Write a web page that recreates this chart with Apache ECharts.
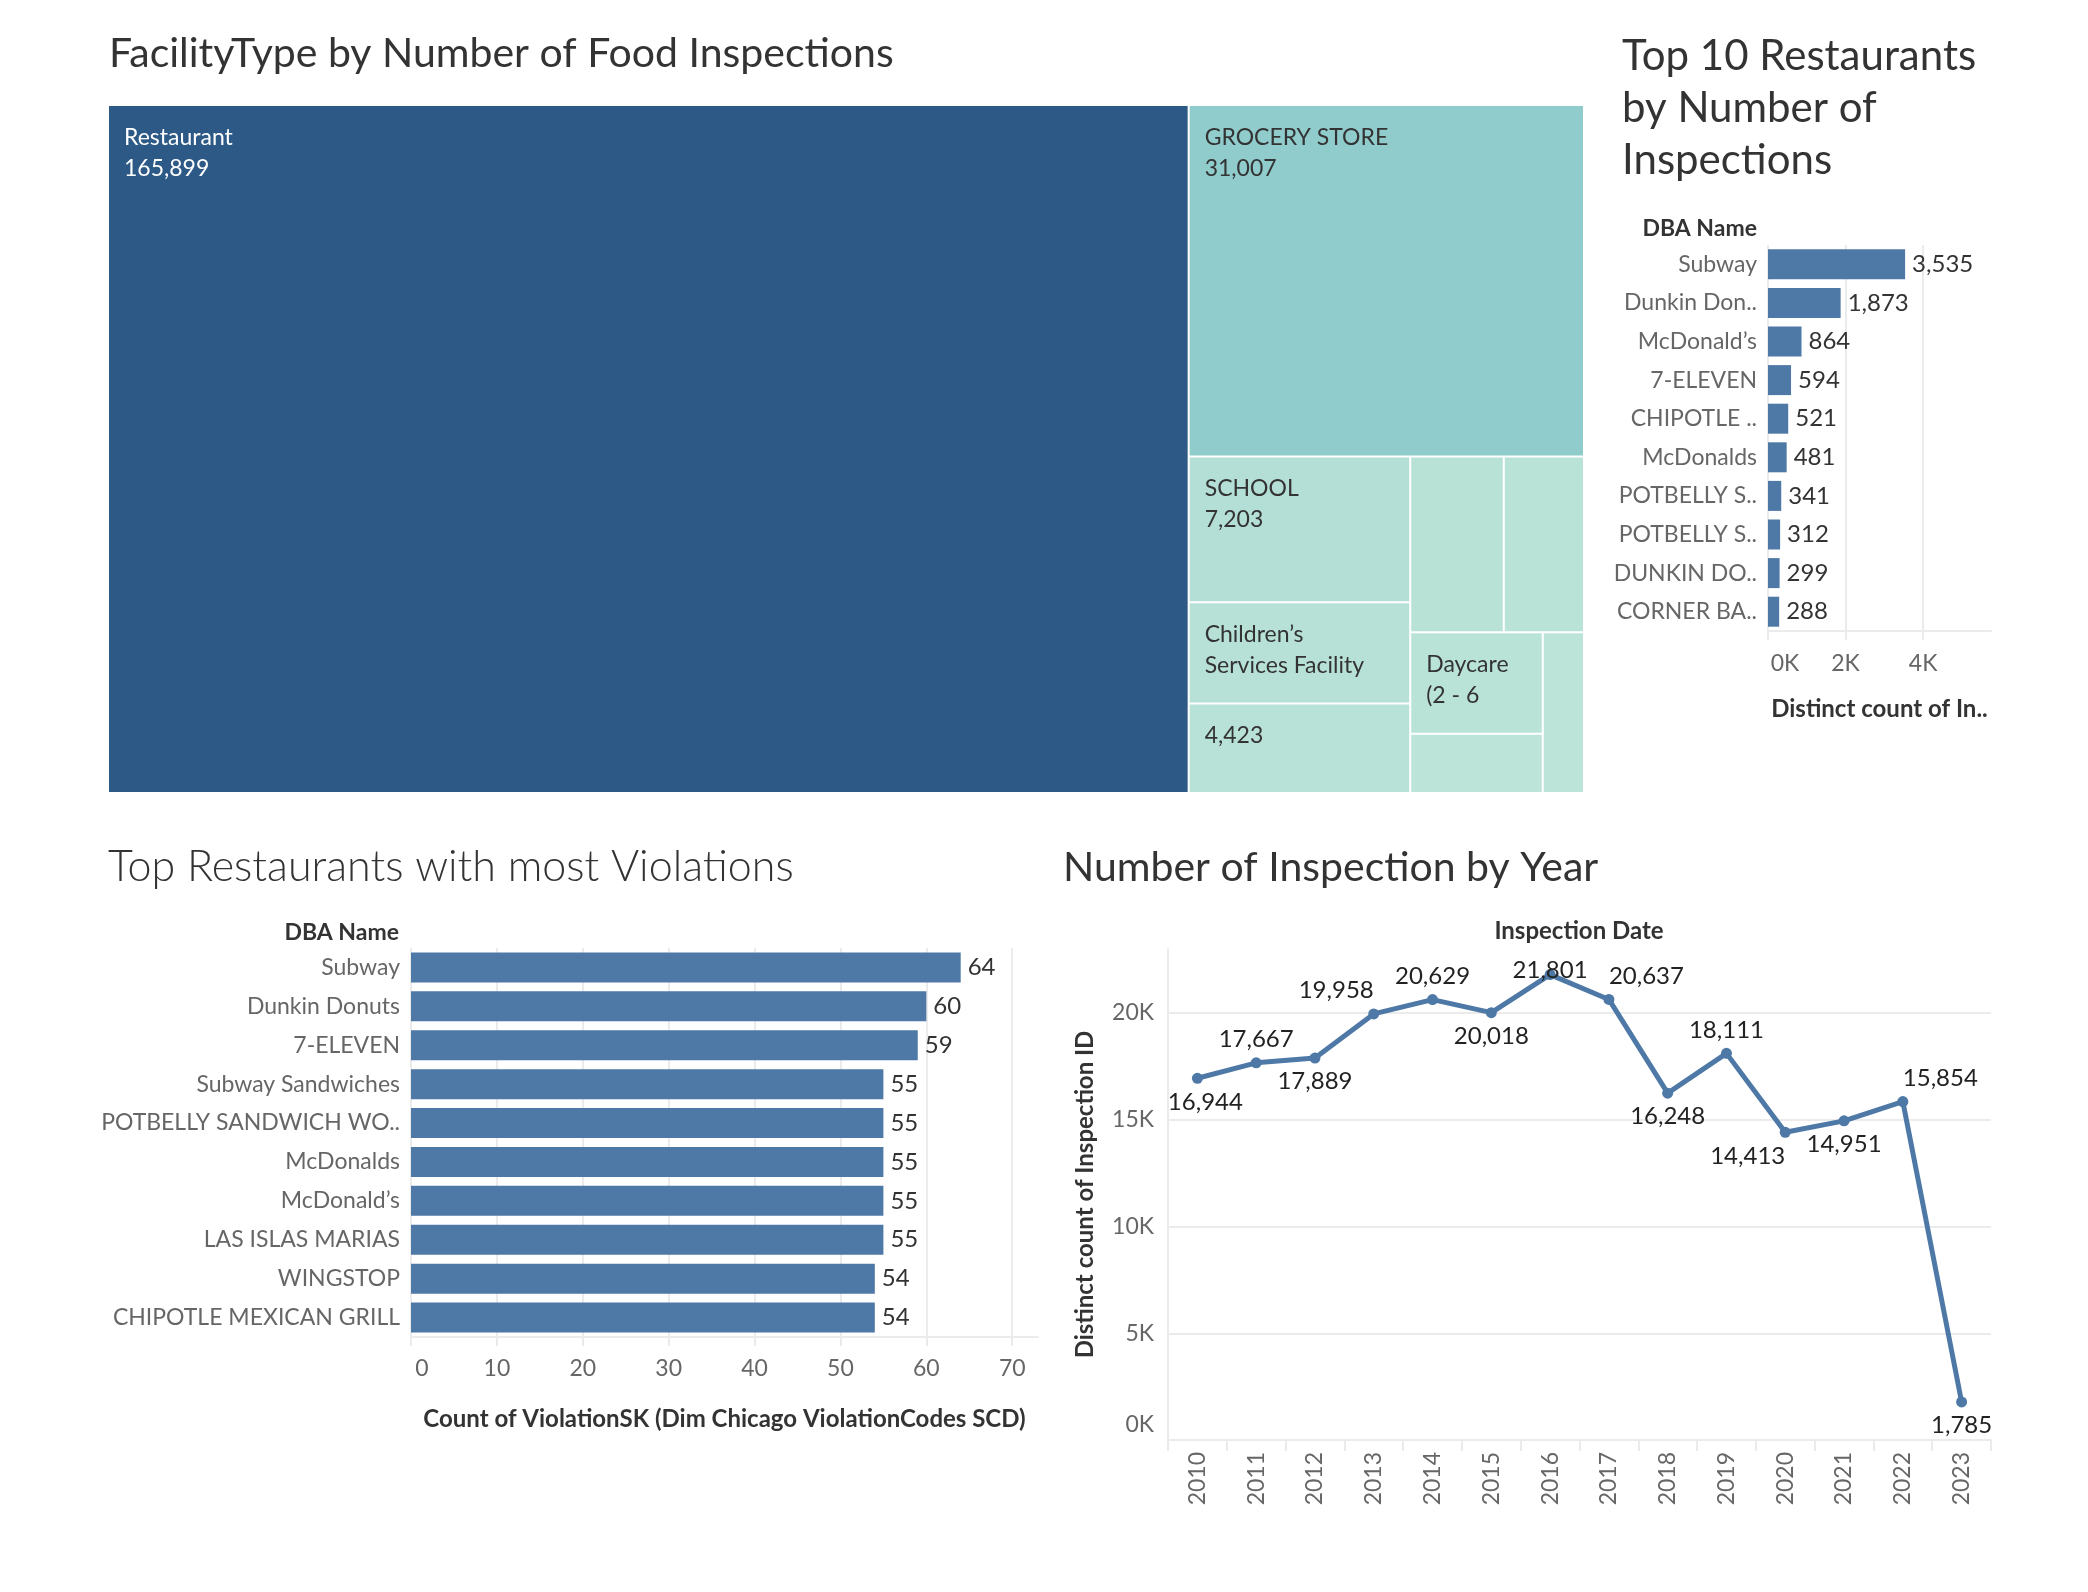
<!DOCTYPE html>
<html>
<head>
<meta charset="utf-8">
<script src="https://cdn.jsdelivr.net/npm/echarts@6/dist/echarts.min.js"></script>
<style>
  html, body { margin: 0; padding: 0; background: #fff; }
  #main { width: 2088px; height: 1592px; }
</style>
</head>
<body>
<div id="main"></div>
<script>
// facility types (treemap)
var facilityNames = ['Restaurant', 'Grocery Store', 'School', 'Children’s Services Facility',
  'Daycare Above and Under 2 Years', 'Bakery', 'Long Term Care', 'Daycare (2 - 6 Years)', 'Catering', 'Mobile Food Dispenser'];
var facilityCounts = [165899, 31007, 7203, 5010, 4423, 3671, 3146, 3004, 1749, 1479];
// what tableau managed to print inside each cell
var facilityLabelNames = ['Restaurant', 'GROCERY STORE', 'SCHOOL', 'Children’s\nServices Facility', '', '', '', 'Daycare\n(2 - 6', '', ''];
var facilityShowValue = [true, true, true, false, true, false, false, false, false, false];

// top 10 restaurants by inspections
var top10Names = ['Subway', 'Dunkin Donuts', 'McDonald’s', '7-ELEVEN', 'CHIPOTLE MEXICAN GRILL', 'McDonalds',
  'POTBELLY SANDWICH WORKS', 'POTBELLY SANDWICH WORKS LLC', 'DUNKIN DONUTS', 'CORNER BAKERY CAFE'];
var top10Short = ['Subway', 'Dunkin Don..', 'McDonald’s', '7-ELEVEN', 'CHIPOTLE ..', 'McDonalds',
  'POTBELLY S..', 'POTBELLY S..', 'DUNKIN DO..', 'CORNER BA..'];
var top10Counts = [3535, 1873, 864, 594, 521, 481, 341, 312, 299, 288];

// restaurants with most violations
var violNames = ['Subway', 'Dunkin Donuts', '7-ELEVEN', 'Subway Sandwiches', 'POTBELLY SANDWICH WO..',
  'McDonalds', 'McDonald’s', 'LAS ISLAS MARIAS', 'WINGSTOP', 'CHIPOTLE MEXICAN GRILL'];
var violCounts = [64, 60, 59, 55, 55, 55, 55, 55, 54, 54];

// inspections per year
var years = ['2010', '2011', '2012', '2013', '2014', '2015', '2016', '2017', '2018', '2019', '2020', '2021', '2022', '2023'];
var yearCounts = [16944, 17667, 17889, 19958, 20629, 20018, 21801, 20637, 16248, 18111, 14413, 14951, 15854, 1785];

var FONT = 'Lato';
var DARK = '#333333';
var GREY = '#666666';
var GRIDC = '#ebebeb';
var BAR = '#4e79a7';

function fmt(v) { return v.toLocaleString('en-US'); }

// blue-teal ramp, like tableau
var ramp = ['#bce4d8', '#45a2b9', '#2c5985'];
var fMin = Math.min.apply(null, facilityCounts);
var fMax = Math.max.apply(null, facilityCounts);

var treeData = facilityNames.map(function (n, i) {
  var lines = [];
  if (facilityLabelNames[i]) lines.push(facilityLabelNames[i]);
  if (facilityShowValue[i]) lines.push(fmt(facilityCounts[i]));
  var t = (facilityCounts[i] - fMin) / (fMax - fMin);
  return {
    name: n,
    value: facilityCounts[i],
    itemStyle: { color: echarts.color.lerp(t, ramp) },
    label: { formatter: lines.join('\n'), color: i === 0 ? '#ffffff' : DARK }
  };
});

// label placement for the year line (tableau moved them around)
var placeStyle = {
  top: { position: 'top' },
  bottom: { position: 'bottom' },
  bottomR: { position: 'bottom', offset: [8, 0] },
  topLeft: { position: 'top', align: 'right' },
  topRight: { position: 'top', align: 'left' },
  bottomLeft: { position: 'bottom', align: 'right' },
  center: { position: 'inside', offset: [0, -4] }
};
var yearLabelPlace = ['bottomR', 'top', 'bottom', 'topLeft', 'top', 'bottom', 'center',
  'topRight', 'bottom', 'top', 'bottomLeft', 'bottom', 'topRight', 'bottom'];

var lineData = yearCounts.map(function (v, i) {
  return { value: v, label: placeStyle[yearLabelPlace[i]] };
});

function titleBox(text, left, top, opts) {
  opts = opts || {};
  return {
    text: text, left: left, top: top, padding: 0,
    textAlign: opts.align,
    textStyle: {
      fontFamily: FONT, fontSize: opts.size || 41, fontWeight: opts.weight || 'normal',
      color: DARK, lineHeight: opts.lh || 48
    }
  };
}

var axisName = { fontFamily: FONT, fontSize: 24, fontWeight: 'bold', color: DARK };

var myChart = echarts.init(document.getElementById('main'));
var option = {
  animation: false,
  backgroundColor: '#ffffff',
  textStyle: { fontFamily: FONT },
  title: [
    titleBox('FacilityType by Number of Food Inspections', 109, 30),
    titleBox('Top 10 Restaurants\nby Number of\nInspections', 1622, 30, { lh: 52, size: 42 }),
    titleBox('Top Restaurants with most Violations', 108, 843, { weight: 300, size: 43 }),
    titleBox('Number of Inspection by Year', 1063, 844),
    titleBox('DBA Name', 1757, 216, { size: 23, weight: 'bold', lh: 26, align: 'right' }),
    titleBox('DBA Name', 399, 920, { size: 23, weight: 'bold', lh: 26, align: 'right' }),
    titleBox('Inspection Date', 1579, 918, { size: 24, weight: 'bold', lh: 26, align: 'center' })
  ],
  grid: [
    { left: 1768, top: 245, width: 223, height: 386, outerBoundsMode: 'none' },
    { left: 411, top: 948, width: 627, height: 389, outerBoundsMode: 'none' },
    { left: 1168, top: 949, width: 823, height: 491, outerBoundsMode: 'none' }
  ],
  xAxis: [
    {
      gridIndex: 0, type: 'value', min: 0, max: 5750, interval: 2000,
      name: 'Distinct count of In..', nameLocation: 'middle', nameGap: 66,
      nameTextStyle: axisName,
      axisLine: { show: true, lineStyle: { color: GRIDC, width: 2 } },
      axisTick: { show: true, length: 9, lineStyle: { color: GRIDC, width: 2 } },
      splitLine: { show: true, showMaxLine: false, lineStyle: { color: GRIDC, width: 2 } },
      axisLabel: {
        showMaxLabel: false, margin: 21, fontSize: 23, color: GREY, fontFamily: FONT,
        formatter: function (v) { return v === 0 ? '{first|0K}' : (v / 1000) + 'K'; },
        rich: { first: { padding: [0, 0, 0, 34], fontSize: 23, color: GREY, fontFamily: FONT } }
      }
    },
    {
      gridIndex: 1, type: 'value', min: 0, max: 73, interval: 10,
      name: 'Count of ViolationSK (Dim Chicago ViolationCodes SCD)', nameLocation: 'middle', nameGap: 70,
      nameTextStyle: axisName,
      axisLine: { show: true, lineStyle: { color: GRIDC, width: 2 } },
      axisTick: { show: true, length: 9, lineStyle: { color: GRIDC, width: 2 } },
      splitLine: { show: true, showMaxLine: false, lineStyle: { color: GRIDC, width: 2 } },
      axisLabel: {
        showMaxLabel: false, margin: 20, fontSize: 23, color: GREY, fontFamily: FONT,
        formatter: function (v) { return v === 0 ? '{first|0}' : String(v); },
        rich: { first: { padding: [0, 0, 0, 22], fontSize: 23, color: GREY, fontFamily: FONT } }
      }
    },
    {
      gridIndex: 2, type: 'category', data: years, boundaryGap: true,
      axisLine: { show: true, lineStyle: { color: GRIDC, width: 2 } },
      axisTick: { show: true, interval: 0, length: 11, lineStyle: { color: GRIDC, width: 2 } },
      splitLine: { show: false },
      axisLabel: { interval: 0, rotate: 90, margin: 12, fontSize: 23, color: GREY, fontFamily: FONT }
    }
  ],
  yAxis: [
    {
      gridIndex: 0, type: 'category', data: top10Names, inverse: true,
      axisLine: { show: false }, axisTick: { show: false },
      axisLabel: {
        interval: 0, margin: 11, fontSize: 23, color: GREY, fontFamily: FONT,
        formatter: function (v, i) { return top10Short[i]; }
      }
    },
    {
      gridIndex: 1, type: 'category', data: violNames, inverse: true,
      axisLine: { show: false }, axisTick: { show: false },
      axisLabel: { interval: 0, margin: 11, fontSize: 23, color: GREY, fontFamily: FONT }
    },
    {
      gridIndex: 2, type: 'value', min: 0, max: 23000, interval: 5000,
      name: 'Distinct count of Inspection ID', nameLocation: 'middle', nameGap: 71, nameRotate: 90,
      nameTextStyle: axisName,
      axisLine: { show: true, lineStyle: { color: GRIDC, width: 2 } },
      axisTick: { show: false },
      splitLine: { show: true, showMinLine: false, showMaxLine: false, lineStyle: { color: GRIDC, width: 2 } },
      axisLabel: {
        showMaxLabel: false, margin: 14, fontSize: 23, color: GREY, fontFamily: FONT,
        formatter: function (v) { return v === 0 ? '{zero|0K}' : (v / 1000) + 'K'; },
        rich: { zero: { padding: [0, 0, 30, 0], fontSize: 23, color: GREY, fontFamily: FONT } }
      }
    }
  ],
  series: [
    {
      type: 'treemap',
      left: 109, top: 106, width: 1474, height: 686,
      roam: false, nodeClick: false,
      breadcrumb: { show: false },
      sort: 'desc',
      itemStyle: { borderWidth: 0, gapWidth: 2, borderColor: '#ffffff' },
      levels: [{ itemStyle: { borderWidth: 0, gapWidth: 2, borderColor: '#ffffff' } }],
      label: {
        show: true, position: 'insideTopLeft', distance: 0, padding: [16, 15, 0, 15],
        fontFamily: FONT, fontSize: 23, lineHeight: 31, overflow: 'none'
      },
      upperLabel: { show: false },
      data: treeData
    },
    {
      type: 'bar', xAxisIndex: 0, yAxisIndex: 0, data: top10Counts, barWidth: 30,
      itemStyle: { color: BAR },
      label: {
        show: true, position: 'right', distance: 7, fontSize: 24, color: DARK, fontFamily: FONT,
        formatter: function (p) { return fmt(p.value); }
      }
    },
    {
      type: 'bar', xAxisIndex: 1, yAxisIndex: 1, data: violCounts, barWidth: 30,
      itemStyle: { color: BAR },
      label: { show: true, position: 'right', distance: 7, fontSize: 24, color: DARK, fontFamily: FONT }
    },
    {
      type: 'line', xAxisIndex: 2, yAxisIndex: 2, data: lineData,
      symbol: 'circle', symbolSize: 11,
      lineStyle: { color: BAR, width: 5 },
      itemStyle: { color: BAR },
      label: {
        show: true, distance: 6, fontSize: 24, color: '#222222', fontFamily: FONT,
        formatter: function (p) { return fmt(p.value); }
      }
    }
  ]
};
myChart.setOption(option);
</script>
</body>
</html>
